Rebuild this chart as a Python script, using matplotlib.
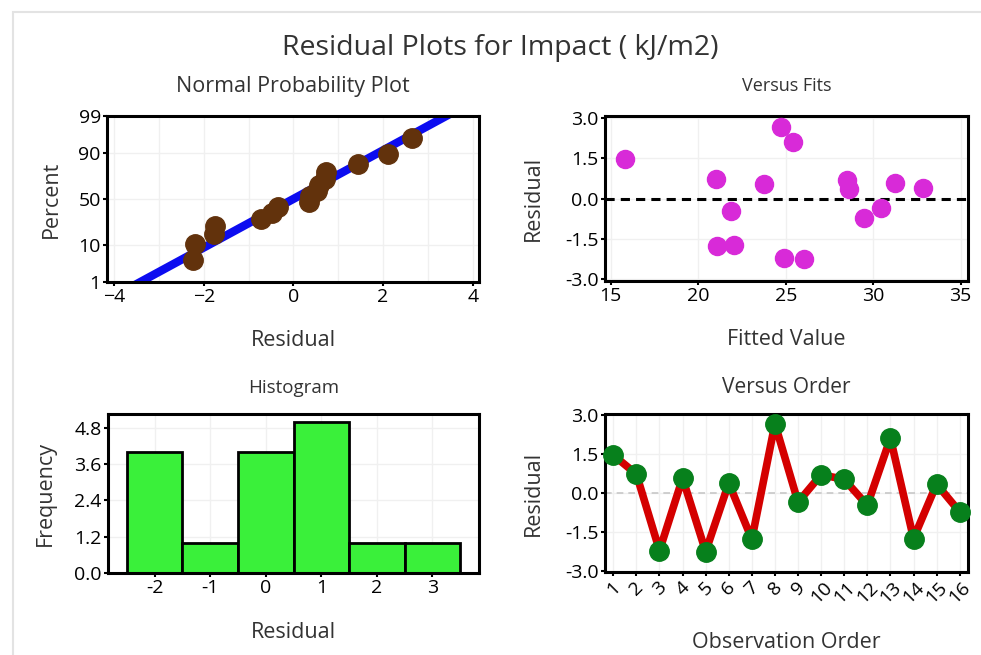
import matplotlib
matplotlib.use("Agg")
import matplotlib.pyplot as plt
import numpy as np
from statistics import NormalDist
from matplotlib.patches import Rectangle

plt.rcParams['font.family'] = ['Open Sans', 'DejaVu Sans']

# ---- data ----
observation = list(range(1, 17))
residuals = [1.45, 0.72, -2.20, 0.57, -2.24, 0.38, -1.77, 2.65,
             -0.35, 0.70, 0.52, -0.47, 2.10, -1.74, 0.34, -0.72]
fitted = [15.82, 21.00, 24.93, 31.22, 26.07, 32.85, 21.05, 24.72,
          30.44, 28.49, 23.75, 21.86, 25.41, 22.04, 28.59, 29.46]
prob_ticks = [1, 10, 50, 90, 99]
hist_edges = [-2.5, -1.5, -0.5, 0.5, 1.5, 2.5, 3.5]
hist_ticks = [-2, -1, 0, 1, 2, 3]
freq_ticks = [0.0, 1.2, 2.4, 3.6, 4.8]
res_ticks = [-3.0, -1.5, 0.0, 1.5, 3.0]

W, H = 981, 655
fig = plt.figure(figsize=(W / 100, H / 100), dpi=100)
fig.patch.set_facecolor('white')
fig.patches.append(Rectangle((13 / W, -0.1), 2.0, 1 - 12 / H + 0.1,
                             transform=fig.transFigure, fill=False,
                             edgecolor='#e3e3e3', linewidth=1.5))

def pos(l, t, r, b):
    return [l / W, 1 - b / H, (r - l) / W, (b - t) / H]

TXT = '#333333'
TICK_FS = 14
LAB_FS = 15.5

def style(ax):
    for s in ax.spines.values():
        s.set_linewidth(2.2)
        s.set_color('black')
    ax.tick_params(direction='out', length=3, width=1.5, labelsize=TICK_FS,
                   colors='black', pad=1.5)
    ax.grid(True, color='#f0f0f0', linewidth=1)
    ax.set_axisbelow(True)

nd = NormalDist()

# ---- Normal probability plot ----
ax1 = fig.add_axes(pos(107, 116, 479, 282))
style(ax1)
srt = np.sort(residuals)
n = len(srt)
pcts = (np.arange(1, n + 1) - 0.3) / (n + 0.4)
z = np.array([nd.inv_cdf(p) for p in pcts])
mu = np.mean(residuals)
sd = np.std(residuals, ddof=1)
zlim = (nd.inv_cdf(0.01), nd.inv_cdf(0.99))
zl = np.linspace(zlim[0] - 0.5, zlim[1] + 0.5, 50)
ax1.plot(mu + sd * zl, zl, color='#0c0cf0', linewidth=6, solid_capstyle='butt', zorder=2)
ax1.plot(srt, z, 'o', color='#62320c', markersize=14, zorder=3)
ax1.set_xlim(-4.16, 4.14)
ax1.set_ylim(*zlim)
ax1.set_xticks([-4, -2, 0, 2, 4])
ax1.set_xticks([-3, -1, 1, 3], minor=True)
ax1.tick_params(which='minor', length=0)
ax1.grid(True, which='minor', axis='x', color='#f0f0f0', linewidth=1)
ax1.set_yticks([nd.inv_cdf(p / 100) for p in prob_ticks])
ax1.set_yticklabels([str(p) for p in prob_ticks])
ax1.set_title('Normal Probability Plot', fontsize=15.5, color=TXT, pad=17)
ax1.set_xlabel('Residual', fontsize=LAB_FS, color=TXT, labelpad=17)
ax1.set_ylabel('Percent', fontsize=LAB_FS, color=TXT, labelpad=12)

# ---- Versus fits ----
ax2 = fig.add_axes(pos(605, 116, 968, 281))
style(ax2)
ax2.axhline(0, color='black', linestyle=(0, (3, 2)), linewidth=2.2, zorder=2)
ax2.plot(fitted, residuals, 'o', color='#d82ad8', markersize=13, zorder=3)
ax2.set_xlim(14.67, 35.42)
ax2.set_ylim(-3.06, 3.06)
ax2.set_xticks([15, 20, 25, 30, 35])
ax2.set_yticks(res_ticks)
ax2.set_yticklabels([f'{v:.1f}' for v in res_ticks])
ax2.set_title('Versus Fits', fontsize=13, color=TXT, pad=18)
ax2.set_xlabel('Fitted Value', fontsize=LAB_FS, color=TXT, labelpad=17)
ax2.set_ylabel('Residual', fontsize=LAB_FS, color=TXT, labelpad=15)

# ---- Histogram ----
ax3 = fig.add_axes(pos(108, 414, 479, 573))
style(ax3)
ax3.hist(residuals, bins=hist_edges, color='#3af03a', edgecolor='black',
         linewidth=2, zorder=2)
ax3.set_xlim(-2.84, 3.84)
ax3.set_ylim(0, 5.26)
ax3.set_xticks(hist_ticks)
ax3.set_xticklabels([str(v) for v in hist_ticks])
ax3.set_yticks(freq_ticks)
ax3.set_yticklabels([f'{v:.1f}' for v in freq_ticks])
ax3.set_title('Histogram', fontsize=13.5, color=TXT, pad=15)
ax3.set_xlabel('Residual', fontsize=LAB_FS, color=TXT, labelpad=18)
ax3.set_ylabel('Frequency', fontsize=LAB_FS, color=TXT, labelpad=13)

# ---- Versus order ----
ax4 = fig.add_axes(pos(605, 414, 968, 572))
style(ax4)
ax4.axhline(0, color='#c8c8c8', linestyle=(0, (4, 3)), linewidth=1.2, zorder=1)
ax4.plot(observation, residuals, '-', color='#d40000', linewidth=5.5, zorder=2)
ax4.plot(observation, residuals, 'o', color='#07801c', markersize=14, zorder=3,
         clip_on=False)
ax4.set_xlim(0.64, 16.36)
ax4.set_ylim(-3.02, 3.02)
ax4.set_xticks(observation)
ax4.set_xticklabels([str(v) for v in observation], rotation=45,
                    ha='center', va='top')
ax4.set_yticks(res_ticks)
ax4.set_yticklabels([f'{v:.1f}' for v in res_ticks])
ax4.set_title('Versus Order', fontsize=15, color=TXT, pad=15)
ax4.set_xlabel('Observation Order', fontsize=LAB_FS, color=TXT, labelpad=18)
ax4.set_ylabel('Residual', fontsize=LAB_FS, color=TXT, labelpad=15)

fig.text(500 / W, 1 - 48 / H, 'Residual Plots for Impact ( kJ/m2)',
         ha='center', va='center', fontsize=20.5, color=TXT)

fig.savefig('out.png', dpi=100)
